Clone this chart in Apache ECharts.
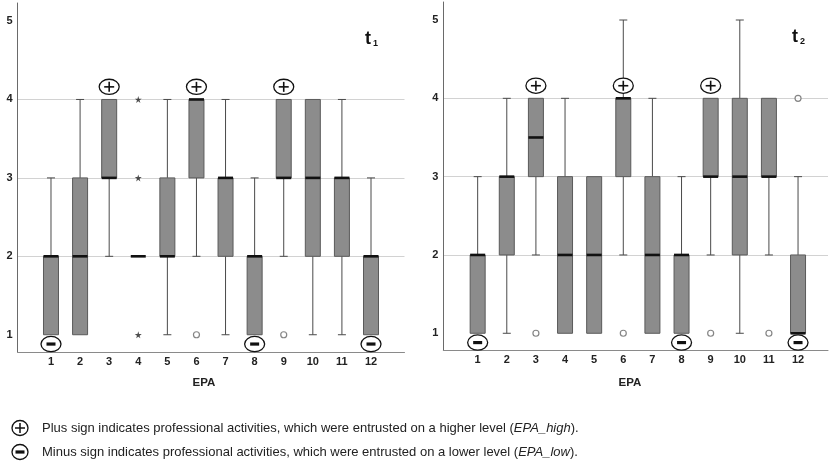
<!DOCTYPE html>
<html>
<head>
<meta charset="utf-8">
<script src="https://cdn.jsdelivr.net/npm/echarts@6/dist/echarts.min.js"></script>
<style>
html,body{margin:0;padding:0;background:#fff;}
#c{width:829px;height:470px;}
</style>
</head>
<body>
<div id="c"></div>
<script>
// ---------------- data ----------------
const categories = ['1','2','3','4','5','6','7','8','9','10','11','12'];
const yTicks = [1, 2, 3, 4, 5];
// each box: [min, Q1, median, Q3, max]
const boxT1 = [
  [1,1,2,2,3],[1,1,2,3,4],[2,3,3,4,4],[2,2,2,2,2],[1,2,2,3,4],[2,3,4,4,4],
  [1,2,3,3,4],[1,1,2,2,3],[2,3,3,4,4],[1,2,3,4,4],[1,2,3,3,4],[1,1,2,2,3]
];
const boxT2 = [
  [1,1,2,2,3],[1,2,3,3,4],[2,3,3.5,4,4],[1,1,2,3,4],[1,1,2,3,3],[2,3,4,4,5],
  [1,1,2,3,4],[1,1,2,2,3],[2,3,3,4,4],[1,2,3,4,5],[2,3,3,4,4],[1,1,1,2,3]
];
// outliers (circles) and extremes (stars): [category, value]
const outliersT1 = [['6',1],['9',1]];
const extremesT1 = [['4',1],['4',3],['4',4]];
const outliersT2 = [['3',1],['6',1],['9',1],['11',1],['12',4]];
const extremesT2 = [];
// EPA_high (+) and EPA_low (-) markers
const plusT1 = ['3','6','9'];
const minusT1 = ['1','8','12'];
const plusT2 = ['3','6','9'];
const minusT2 = ['1','8','12'];
const panelTitles = ['1', '2'];
const axisName = 'EPA';
const legendPlus = 'Plus sign indicates professional activities, which were entrusted on a higher level ({i|EPA_high}).';
const legendMinus = 'Minus sign indicates professional activities, which were entrusted on a lower level ({i|EPA_low}).';

// ---------------- styles ----------------
const FONT = '"Liberation Sans", Arial, sans-serif';
const Y_MIN = 0.78, Y_MAX = 5.23;
const idx = c => categories.indexOf(c);

function renderBox(params, api) {
  const x = api.value(0);
  const vmin = api.value(1), q1 = api.value(2), med = api.value(3), q3 = api.value(4), vmax = api.value(5);
  const py = v => api.coord([x, v])[1];
  const cx = api.coord([x, med])[0];
  const hw = 7.5, cap = 4;
  const ws = { stroke: '#4a4a4a', lineWidth: 1 };
  const ch = [];
  if (vmax > q3) {
    ch.push({ type: 'line', shape: { x1: cx, y1: py(vmax), x2: cx, y2: py(q3) }, style: ws });
    ch.push({ type: 'line', shape: { x1: cx - cap, y1: py(vmax), x2: cx + cap, y2: py(vmax) }, style: ws });
  }
  if (vmin < q1) {
    ch.push({ type: 'line', shape: { x1: cx, y1: py(q1), x2: cx, y2: py(vmin) }, style: ws });
    ch.push({ type: 'line', shape: { x1: cx - cap, y1: py(vmin), x2: cx + cap, y2: py(vmin) }, style: ws });
  }
  if (q3 > q1) {
    ch.push({ type: 'rect', shape: { x: cx - hw, y: py(q3), width: 2 * hw, height: py(q1) - py(q3) },
      style: { fill: '#8c8c8c', stroke: '#5a5a5a', lineWidth: 1 } });
  }
  ch.push({ type: 'line', shape: { x1: cx - hw, y1: py(med), x2: cx + hw, y2: py(med) },
    style: { stroke: '#111', lineWidth: 2.6 } });
  return { type: 'group', children: ch };
}

function renderPlus(params, api) {
  const p = api.coord([api.value(0), 4]);
  const cx = p[0], cy = p[1] - 12.6;
  return { type: 'group', children: [
    { type: 'ellipse', shape: { cx, cy, rx: 10, ry: 7.6 }, style: { fill: '#fff', stroke: '#111', lineWidth: 1.3 } },
    { type: 'line', shape: { x1: cx - 5, y1: cy, x2: cx + 5, y2: cy }, style: { stroke: '#111', lineWidth: 1.6 } },
    { type: 'line', shape: { x1: cx, y1: cy - 5, x2: cx, y2: cy + 5 }, style: { stroke: '#111', lineWidth: 1.6 } }
  ]};
}
function renderMinus(params, api) {
  const p = api.coord([api.value(0), 1]);
  const cx = p[0], cy = p[1] + 9.3;
  return { type: 'group', children: [
    { type: 'ellipse', shape: { cx, cy, rx: 10, ry: 7.6 }, style: { fill: '#fff', stroke: '#111', lineWidth: 1.3 } },
    { type: 'rect', shape: { x: cx - 4.5, y: cy - 1.6, width: 9, height: 3.2 }, style: { fill: '#111' } }
  ]};
}

const STAR = 'path://M50,0 L61,35 L98,35 L68,57 L79,91 L50,70 L21,91 L32,57 L2,35 L39,35 Z';

const panels = [
  { outer: { left: 17.5, right: 424.5, top: 3, bottom: 118 },
    inner: { left: 36.45, right: 443.45, top: 3, bottom: 118 },
    box: boxT1, out: outliersT1, ext: extremesT1, plus: plusT1, minus: minusT1 },
  { outer: { left: 443.3, right: 1, top: 2, bottom: 119.5 },
    inner: { left: 463.1, right: 16.4, top: 2, bottom: 119.5 },
    box: boxT2, out: outliersT2, ext: extremesT2, plus: plusT2, minus: minusT2 }
];

const grid = [], xAxis = [], yAxis = [], series = [];
panels.forEach((pn, k) => {
  const go = grid.length; grid.push(pn.outer);
  const gi = grid.length; grid.push(pn.inner);
  // outer: axis lines, y labels, grid lines
  xAxis.push({ gridIndex: go, type: 'value', min: 0, max: 1, axisLine: { show: true, lineStyle: { color: '#8a8a8a', width: 1 } },
    axisTick: { show: false }, axisLabel: { show: false }, splitLine: { show: false } });
  yAxis.push({ gridIndex: go, type: 'value', min: Y_MIN, max: Y_MAX,
    axisLine: { show: true, lineStyle: { color: '#6a6a6a', width: 1 } },
    axisTick: { show: false, customValues: yTicks },
    axisLabel: { customValues: yTicks, margin: 5, fontFamily: FONT, fontSize: 11, fontWeight: 'bold', color: '#222',
      formatter: v => (Number.isInteger(v) ? String(v) : '') },
    splitLine: { show: true, showMinLine: false, showMaxLine: false, lineStyle: { color: '#d2d2d2', width: 1 } } });
  // inner: category axis for boxes
  const xi = xAxis.length;
  xAxis.push({ gridIndex: gi, type: 'category', data: categories, boundaryGap: true,
    axisLine: { show: false }, axisTick: { show: false },
    axisLabel: { margin: 4, fontFamily: FONT, fontSize: 11, fontWeight: 'bold', color: '#222' } });
  const yi = yAxis.length;
  yAxis.push({ gridIndex: gi, type: 'value', min: Y_MIN, max: Y_MAX, show: false, splitLine: { show: false } });

  series.push({ type: 'custom', xAxisIndex: xi, yAxisIndex: yi, clip: false, renderItem: renderBox,
    encode: { x: 0, y: [1, 2, 3, 4, 5] },
    data: pn.box.map((b, i) => [i].concat(b)), z: 2 });
  series.push({ type: 'scatter', xAxisIndex: xi, yAxisIndex: yi, symbol: 'circle', symbolSize: 6,
    itemStyle: { color: '#fff', borderColor: '#666', borderWidth: 1.2 },
    data: pn.out.map(o => [idx(o[0]), o[1]]), z: 3 });
  series.push({ type: 'scatter', xAxisIndex: xi, yAxisIndex: yi, symbol: STAR, symbolSize: 7,
    itemStyle: { color: '#222' },
    data: pn.ext.map(o => [idx(o[0]), o[1]]), z: 3 });
  series.push({ type: 'custom', xAxisIndex: xi, yAxisIndex: yi, clip: false, renderItem: renderPlus,
    encode: { x: 0 }, data: pn.plus.map(c => [idx(c)]), z: 4 });
  series.push({ type: 'custom', xAxisIndex: xi, yAxisIndex: yi, clip: false, renderItem: renderMinus,
    encode: { x: 0 }, data: pn.minus.map(c => [idx(c)]), z: 4 });
});

const tStyle = {
  t: { fontFamily: FONT, fontSize: 18, fontWeight: 'bold', fill: '#111' },
  s: { fontFamily: FONT, fontSize: 9, fontWeight: 'bold', fill: '#111', verticalAlign: 'bottom', padding: [8, 0, 0, 2] }
};
const textBase = { fontFamily: FONT, fontSize: 13, fill: '#222', verticalAlign: 'middle', align: 'left' };

function legendIcon(cx, cy, plus) {
  const ch = [{ type: 'ellipse', shape: { cx, cy, rx: 8, ry: 7.5 }, style: { fill: '#fff', stroke: '#111', lineWidth: 1.3 } }];
  if (plus) {
    ch.push({ type: 'line', shape: { x1: cx - 5, y1: cy, x2: cx + 5, y2: cy }, style: { stroke: '#111', lineWidth: 1.5 } });
    ch.push({ type: 'line', shape: { x1: cx, y1: cy - 5, x2: cx, y2: cy + 5 }, style: { stroke: '#111', lineWidth: 1.5 } });
  } else {
    ch.push({ type: 'rect', shape: { x: cx - 4.5, y: cy - 1.6, width: 9, height: 3.2 }, style: { fill: '#111' } });
  }
  return { type: 'group', children: ch };
}

const graphic = [
  { type: 'text', x: 365, y: 39, style: { text: '{t|t}{s|' + panelTitles[0] + '}', rich: tStyle, verticalAlign: 'middle' } },
  { type: 'text', x: 792, y: 37, style: { text: '{t|t}{s|' + panelTitles[1] + '}', rich: tStyle, verticalAlign: 'middle' } },
  { type: 'text', x: 204, y: 383, style: { text: axisName, fontFamily: FONT, fontSize: 11.5, fontWeight: 'bold', fill: '#222', align: 'center', verticalAlign: 'middle' } },
  { type: 'text', x: 630, y: 383, style: { text: axisName, fontFamily: FONT, fontSize: 11.5, fontWeight: 'bold', fill: '#222', align: 'center', verticalAlign: 'middle' } },
  legendIcon(20, 428, true),
  legendIcon(20, 452, false),
  { type: 'text', x: 42, y: 428, style: Object.assign({ text: legendPlus, rich: { i: { fontFamily: FONT, fontSize: 13, fontStyle: 'italic', fill: '#222' } } }, textBase) },
  { type: 'text', x: 42, y: 452, style: Object.assign({ text: legendMinus, rich: { i: { fontFamily: FONT, fontSize: 13, fontStyle: 'italic', fill: '#222' } } }, textBase) }
];

const chart = echarts.init(document.getElementById('c'), null, { renderer: 'canvas' });
chart.setOption({
  animation: false,
  backgroundColor: '#fff',
  grid, xAxis, yAxis, series, graphic
});
</script>
</body>
</html>
